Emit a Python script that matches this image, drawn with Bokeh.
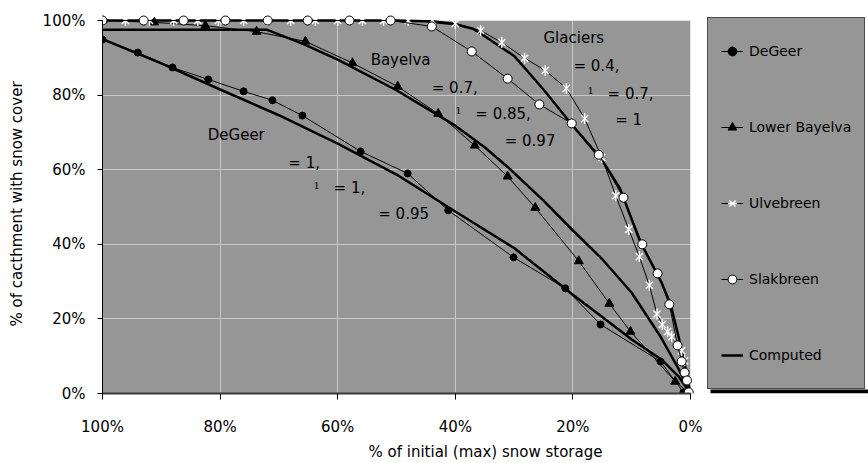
from bokeh.plotting import figure
from bokeh.models import (Range1d, Legend, LegendItem, Label, FixedTicker,
                          BoxAnnotation)
from bokeh.embed import file_html
from bokeh.resources import INLINE
import math

# ---------------- data ----------------
degeer_x = [100, 94.0, 88.1, 82.0, 76.0, 71.1, 66.0, 56.1, 48.1, 41.2, 30.1, 21.3, 15.3, 5.1, 1.2]
degeer_y = [94.9, 91.4, 87.4, 84.2, 81.0, 78.6, 74.5, 64.9, 59.0, 49.1, 36.5, 28.2, 18.5, 8.6, 0.3]

bayelva_x = [100, 91.2, 82.5, 73.8, 65.5, 57.5, 49.8, 42.9, 36.7, 31.1, 26.4, 19.0, 13.8, 10.2, 2.6, 0.5]
bayelva_y = [100, 99.5, 98.6, 97.0, 94.4, 88.6, 82.3, 75.0, 66.5, 58.2, 49.8, 35.5, 24.1, 16.6, 3.2, 0.5]

ulve_x = [100, 96.1, 92.0, 87.9, 83.8, 80.3, 76.0, 72.0, 68.0, 63.8, 60.0, 55.8, 52.2, 48.0, 43.9,
          40.0, 35.7, 32.1, 28.2, 24.7, 21.1, 18.0, 15.1, 12.7, 10.5, 8.7, 7.0, 5.7, 4.8, 3.9, 3.2,
          1.5, 1.0, 0.5, 0.0]
ulve_y = [100, 100, 100, 100, 100, 100, 100, 100, 100, 100, 100, 100, 100, 100, 100,
          99.2, 97.3, 94.1, 89.9, 86.6, 81.8, 73.7, 63.3, 53.0, 44.0, 36.7, 29.0, 21.3, 18.5, 16.6, 15.2,
          11.5, 8.8, 3.5, 0.0]

slak_x = [100, 93.0, 86.2, 79.1, 71.9, 65.1, 58.0, 51.0, 44.0, 37.2, 31.1, 25.7, 20.2, 15.6, 11.4,
          8.2, 5.6, 3.6, 2.2, 1.5, 1.0, 0.6, 0.3]
slak_y = [100, 100, 100, 100, 100, 100, 100, 100, 98.4, 91.7, 84.4, 77.5, 72.4, 64.0, 52.5,
          40.0, 32.2, 23.9, 12.9, 8.6, 5.6, 3.5, 0.3]

comp_degeer_x = [100, 90, 80, 70, 60, 50, 40, 30, 20, 15, 10, 5, 2, 0]
comp_degeer_y = [95, 88.5, 81.5, 74.6, 67, 58.7, 48.8, 39, 26.5, 20.5, 14.5, 9.2, 4.5, 0]

comp_bayelva_x = [100, 72, 66, 60, 50, 40, 35, 31, 25, 20, 15, 10, 5, 2, 0]
comp_bayelva_y = [97.5, 97.5, 93.8, 89.5, 81.3, 71.8, 66, 60.6, 51.7, 43.7, 36, 27, 15, 6.5, 0]

comp_glac_x = [100, 50, 45, 40, 37, 35, 30, 25, 20, 15, 12, 8.5, 5, 3.4, 2, 1, 0]
comp_glac_y = [100, 100, 99.8, 99, 97.8, 95.8, 90.5, 81.5, 71.7, 62.5, 55, 40.5, 30, 24, 15, 8, 0]

x_ticks = [100, 80, 60, 40, 20, 0]
y_ticks = [0, 20, 40, 60, 80, 100]
x_tick_labels = ["100%", "80%", "60%", "40%", "20%", "0%"]
y_tick_labels = ["0%", "20%", "40%", "60%", "80%", "100%"]

series_names = ["DeGeer", "Lower Bayelva", "Ulvebreen", "Slakbreen", "Computed"]

# annotation texts
notes_text = ["DeGeer", "= 1,", "1", "= 1,", "= 0.95",
              "Bayelva", "= 0.7,", "1", "= 0.85,", "= 0.97",
              "Glaciers", "= 0.4,", "1", "= 0.7,", "= 1"]
notes_x = [82.1, 68.4, 64.1, 60.7, 53.1,
           54.4, 44.0, 40.0, 36.6, 31.6,
           25.0, 19.9, 17.5, 14.1, 12.8]
notes_y = [69.4, 61.9, 55.8, 55.0, 48.0,
           89.5, 82.0, 75.9, 75.0, 67.8,
           95.2, 87.7, 81.2, 80.2, 73.2]
notes_small = [False, False, True, False, False,
               False, False, True, False, False,
               False, False, True, False, False]

# ---------------- figure ----------------
FONT = "DejaVu Sans"
GRAY = "#969696"
px_per_x = 588 / 100.0
px_per_y = 373 / 100.0
LEFT, TOP, BOTTOM = 102, 14, 70
W, H = 868, 463
LEG_LEFT_PX = 707      # legend box left edge (page px)
LEG_LIFT_PX = 4        # legend bottom above the x axis (room for its shadow)

p = figure(width=W, height=H, output_backend="svg", toolbar_location=None,
           x_range=Range1d(100, 100 - (W - LEFT) / px_per_x),
           y_range=Range1d(0, 100 + 6 / px_per_y),
           min_border_left=LEFT, min_border_right=0,
           min_border_top=TOP, min_border_bottom=BOTTOM)
p.background_fill_color = "white"
p.border_fill_color = "white"
p.outline_line_color = None

for g in (p.xgrid, p.ygrid):
    g.grid_line_color = "#c8c8c8"
    g.grid_line_width = 1
p.xgrid.ticker = FixedTicker(ticks=x_ticks)
p.ygrid.ticker = FixedTicker(ticks=y_ticks)

# gray plot area, and white masks so grid lines stop at its edges
p.add_layout(BoxAnnotation(left=100, right=0, bottom=0, top=100,
                           fill_color=GRAY, fill_alpha=1.0, line_color=None,
                           level="image"))
p.add_layout(BoxAnnotation(left=0, bottom=0, fill_color="white", fill_alpha=1.0,
                           line_color=None, level="underlay"))
p.add_layout(BoxAnnotation(bottom=100, fill_color="white", fill_alpha=1.0,
                           line_color=None, level="underlay"))

xa = p.xaxis[0]
xa.ticker = FixedTicker(ticks=x_ticks)
xa.major_label_overrides = dict(zip(x_ticks, x_tick_labels))
xa.bounds = (0, 100)
xa.axis_line_color = "#3a3a3a"
xa.axis_line_width = 2
xa.major_tick_in = 0
xa.major_tick_out = 6
xa.minor_tick_line_color = None
xa.major_label_standoff = 18
xa.axis_label = "% of initial (max) snow storage"
xa.axis_label_standoff = 4

ya = p.yaxis[0]
ya.ticker = FixedTicker(ticks=y_ticks)
ya.major_label_overrides = dict(zip(y_ticks, y_tick_labels))
ya.bounds = (0, 100)
ya.axis_line_color = "black"
ya.major_tick_in = 0
ya.major_tick_out = 5
ya.minor_tick_line_color = None
ya.major_label_standoff = 12
ya.axis_label = "% of cacthment with snow cover"
ya.axis_label_standoff = 14

for ax in (xa, ya):
    ax.major_label_text_font = FONT
    ax.major_label_text_font_size = "15px"
    ax.major_label_text_color = "black"
    ax.axis_label_text_font = FONT
    ax.axis_label_text_font_size = "15px"
    ax.axis_label_text_font_style = "normal"
    ax.axis_label_text_color = "black"
    ax.major_tick_line_color = "black"

# computed curves (thick)
c1 = p.line(comp_degeer_x, comp_degeer_y, line_color="black", line_width=2.5)
p.line(comp_bayelva_x, comp_bayelva_y, line_color="black", line_width=2.5)
p.line(comp_glac_x, comp_glac_y, line_color="black", line_width=2.5)

# observed series
l_dg = p.line(degeer_x, degeer_y, line_color="black", line_width=1)
m_dg = p.scatter(degeer_x, degeer_y, marker="circle", size=7,
                 fill_color="black", line_color="black")

l_by = p.line(bayelva_x, bayelva_y, line_color="black", line_width=1)
m_by = p.scatter(bayelva_x, bayelva_y, marker="triangle", size=9,
                 fill_color="black", line_color="black")

l_uv = p.line(ulve_x, ulve_y, line_color="black", line_width=1)
m_uv1 = p.scatter(ulve_x, ulve_y, marker="x", size=10, line_color="white", line_width=1.4)
m_uv2 = p.scatter(ulve_x, ulve_y, marker="dash", size=11, angle=math.pi / 2,
                  line_color="white", line_width=1.4)

l_sk = p.line(slak_x, slak_y, line_color="black", line_width=1)
m_sk = p.scatter(slak_x, slak_y, marker="circle", size=9,
                 fill_color="white", line_color="black", line_width=1)

# annotations
for t, x, y, s in zip(notes_text, notes_x, notes_y, notes_small):
    p.add_layout(Label(x=x, y=y, text=t, text_align="left", text_baseline="middle",
                       text_font="DejaVu Serif" if s else FONT,
                       text_font_size="10px" if s else "15px",
                       text_color="black"))

# legend shadow (black strip under the legend box)
p.add_layout(BoxAnnotation(left=100 - (LEG_LEFT_PX + 3 - LEFT) / px_per_x,
                           bottom=0, top=LEG_LIFT_PX / px_per_y,
                           fill_color="black", fill_alpha=1.0, line_color=None))

legend = Legend(items=[
    LegendItem(label=series_names[0], renderers=[l_dg, m_dg]),
    LegendItem(label=series_names[1], renderers=[l_by, m_by]),
    LegendItem(label=series_names[2], renderers=[l_uv, m_uv1, m_uv2]),
    LegendItem(label=series_names[3], renderers=[l_sk, m_sk]),
    LegendItem(label=series_names[4], renderers=[c1]),
], location=(LEG_LEFT_PX - LEFT, LEG_LIFT_PX))
legend.background_fill_color = GRAY
legend.background_fill_alpha = 1.0
legend.border_line_color = "black"
legend.border_line_width = 1
legend.padding = 13
legend.margin = 0
legend.glyph_width = 22
legend.glyph_height = 40
legend.label_height = 40
legend.label_standoff = 6
legend.label_width = 95
legend.spacing = 36
legend.label_text_font = FONT
legend.label_text_font_size = "14px"
legend.label_text_color = "black"
p.add_layout(legend, "center")

open("out.html", "w").write(file_html(p, INLINE))
